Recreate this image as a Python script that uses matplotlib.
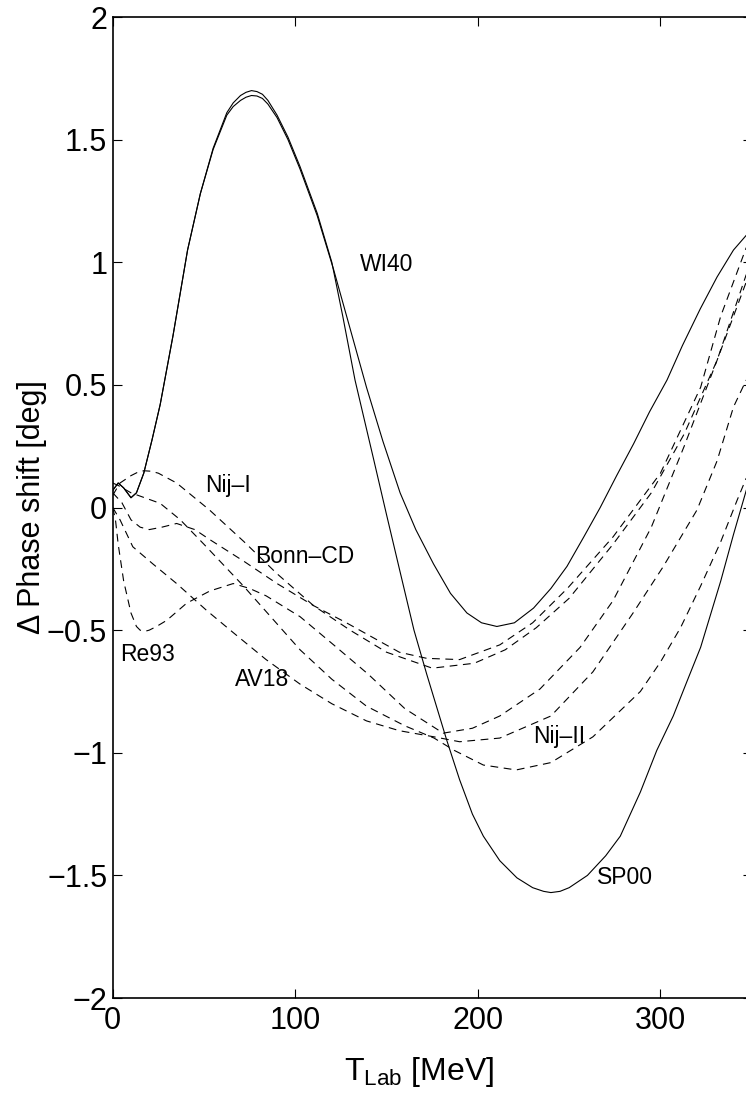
import numpy as np
from matplotlib import pyplot as plt

plt.rcParams['font.family'] = ['Liberation Sans', 'DejaVu Sans']
plt.rcParams['mathtext.fontset'] = 'custom'
plt.rcParams['mathtext.rm'] = 'Liberation Sans'
plt.rcParams['mathtext.it'] = 'Liberation Sans:italic'

# Solid curves (PWA solutions)
wi40_t = [0, 3, 6, 10, 13, 17, 21.5, 26, 33, 41, 48, 55, 62.5, 66, 70, 73, 76, 79, 82, 85, 90, 96, 102.6,
          112, 121, 130, 139, 148, 157.4, 166, 175.7, 185, 194, 202, 210.4, 220, 230.5, 240, 248.8, 258,
          267, 276, 285.3, 294, 303.6, 312, 321.8, 331, 340, 347]
wi40_d = [0.07, 0.10, 0.08, 0.04, 0.06, 0.14, 0.275, 0.42, 0.70, 1.05, 1.28, 1.46, 1.60, 1.635, 1.66, 1.673,
          1.68, 1.678, 1.668, 1.645, 1.59, 1.50, 1.38, 1.19, 0.97, 0.73, 0.49, 0.27, 0.06, -0.09, -0.23,
          -0.35, -0.43, -0.47, -0.485, -0.47, -0.41, -0.33, -0.24, -0.12, 0.0, 0.13, 0.26, 0.39, 0.52, 0.66,
          0.81, 0.94, 1.05, 1.11]

sp00_t = [0, 3, 6, 10, 13, 17, 21.5, 26, 33, 41, 48, 55, 62.5, 66, 70, 73, 76, 79, 82, 85, 90, 96, 102.6,
          112, 120, 126, 132.7, 142.8, 150, 157, 165, 172, 183, 190, 197, 203, 212, 221.4, 230, 236, 240,
          245, 250, 260, 270, 278, 289, 298, 307, 315, 322, 333, 340, 347]
sp00_d = [0.07, 0.10, 0.08, 0.04, 0.06, 0.14, 0.275, 0.42, 0.70, 1.05, 1.28, 1.465, 1.61, 1.65, 1.68, 1.693,
          1.70, 1.696, 1.685, 1.66, 1.60, 1.51, 1.39, 1.20, 1.0, 0.78, 0.52, 0.20, -0.03, -0.25, -0.50,
          -0.68, -0.95, -1.11, -1.25, -1.34, -1.44, -1.51, -1.55, -1.565, -1.57, -1.565, -1.55, -1.50, -1.42,
          -1.34, -1.16, -0.99, -0.85, -0.70, -0.57, -0.30, -0.11, 0.07]

# Dashed curves (potential models)
niji_t = [0, 4, 10, 14, 17, 21, 25, 35, 53, 72, 90, 110, 130, 150, 175, 198, 215, 232, 250, 274, 295, 313,
          331, 347]
niji_d = [0.05, 0.10, 0.13, 0.145, 0.15, 0.148, 0.14, 0.10, -0.01, -0.14, -0.27, -0.40, -0.50, -0.59,
          -0.655, -0.635, -0.58, -0.49, -0.37, -0.15, 0.06, 0.30, 0.60, 0.95]

bonn_t = [0, 5, 10, 15, 20, 27, 35, 45, 53, 72, 90, 110, 128, 157, 172, 190, 212, 230, 249, 274, 300, 322,
          333, 347]
bonn_d = [0.06, 0.02, -0.05, -0.08, -0.09, -0.08, -0.065, -0.09, -0.13, -0.22, -0.31, -0.40, -0.47, -0.59,
          -0.615, -0.62, -0.56, -0.47, -0.33, -0.12, 0.14, 0.49, 0.78, 1.06]

av18_t = [0, 4, 11, 22, 35, 51.5, 66, 84, 102.6, 120, 139, 157, 176, 190, 212, 240, 263, 285, 301.6, 320,
          331, 340, 347]
av18_d = [0.0, -0.05, -0.16, -0.23, -0.31, -0.42, -0.51, -0.62, -0.72, -0.80, -0.87, -0.91, -0.935, -0.955,
          -0.94, -0.85, -0.67, -0.43, -0.24, -0.01, 0.19, 0.41, 0.52]

re93_t = [0, 1.5, 3, 6, 10, 13, 15, 17.5, 20, 24, 29.6, 40.5, 53.3, 66, 75, 84, 102.6, 121, 140, 160, 181,
          197, 212, 234, 256, 274, 295, 313, 331, 347]
re93_d = [0.0, -0.05, -0.15, -0.30, -0.43, -0.485, -0.50, -0.505, -0.50, -0.485, -0.46, -0.39, -0.34, -0.31,
          -0.33, -0.36, -0.445, -0.56, -0.68, -0.82, -0.92, -0.90, -0.85, -0.74, -0.57, -0.38, -0.08, 0.25,
          0.60, 0.92]

nijii_t = [0, 3, 10, 26, 37, 50, 71.6, 102.6, 120, 139, 160, 176, 187, 203, 221, 240, 263, 289, 300, 311,
           322, 333, 342, 347]
nijii_d = [0.10, 0.09, 0.06, 0.017, -0.05, -0.15, -0.32, -0.58, -0.70, -0.81, -0.89, -0.94, -0.99, -1.05,
           -1.07, -1.04, -0.935, -0.75, -0.63, -0.49, -0.32, -0.14, 0.03, 0.12]

labels = ["WI40", "SP00", "Nij\u2013I", "Bonn\u2013CD", "AV18", "Re93", "Nij\u2013II"]
label_x = [135.5, 265.4, 50.7, 78, 67, 4, 230]
label_y = [0.99, -1.51, 0.09, -0.20, -0.70, -0.60, -0.935]

yticks = [-2, -1.5, -1, -0.5, 0, 0.5, 1, 1.5, 2]
xticks = [0, 100, 200, 300]

fig = plt.figure(figsize=(7.46, 11.2), dpi=100)
ax = fig.add_axes([0.1511, 0.1089, 0.8566, 0.8759])

ax.plot(wi40_t, wi40_d, color='black', lw=0.8)
ax.plot(sp00_t, sp00_d, color='black', lw=0.8)
for t, d in [(niji_t, niji_d), (bonn_t, bonn_d), (av18_t, av18_d), (re93_t, re93_d), (nijii_t, nijii_d)]:
    ax.plot(t, d, color='black', lw=0.8, linestyle=(0, (7, 5)))

for lab, lx, ly in zip(labels, label_x, label_y):
    ax.text(lx, ly, lab, fontsize=16.5, ha='left', va='center')

ax.set_xlim(0, 350)
ax.set_ylim(-2, 2)
ax.set_xticks(xticks)
ax.set_yticks(yticks)
ax.set_yticklabels([('%g' % v).replace('-', '\u2212') for v in yticks])
ax.tick_params(direction='in', length=6.5, width=0.8, labelsize=22, top=True, right=True)
ax.tick_params(axis='x', pad=6)
ax.tick_params(axis='y', pad=4)
for sp in ax.spines.values():
    sp.set_linewidth(1.2)

ax.set_xlabel(r"T$_{\rm Lab}$ [MeV]", fontsize=23)
ax.set_ylabel("\u0394 Phase shift [deg]", fontsize=22)
ax.xaxis.set_label_coords(0.479, -0.058)
ax.yaxis.set_label_coords(-0.103, 0.5)

plt.savefig("out.png", dpi=100)
